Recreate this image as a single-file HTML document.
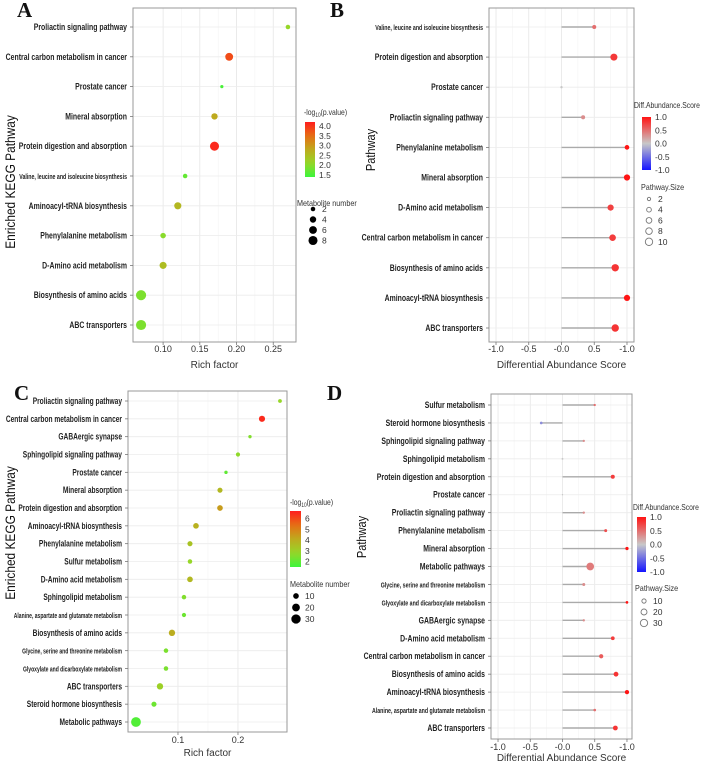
<!DOCTYPE html>
<html><head><meta charset="utf-8"><style>
html,body{margin:0;padding:0;background:#fff;}
svg{display:block;font-family:"Liberation Sans",sans-serif;}
</style></head><body>
<svg id="fig" width="708" height="763" viewBox="0 0 708 763"></svg>
<script>
// ---------- DATA ----------
const aLabels=["Proliactin signaling pathway","Central carbon metabolism in cancer","Prostate cancer","Mineral absorption","Protein digestion and absorption","Valine, leucine and isoleucine biosynthesis","Aminoacyl-tRNA biosynthesis","Phenylalanine metabolism","D-Amino acid metabolism","Biosynthesis of amino acids","ABC transporters"];
const aRich=[0.27,0.19,0.18,0.17,0.17,0.13,0.12,0.10,0.10,0.07,0.07];
const aPval=[2.1,3.8,1.5,2.8,4.1,1.7,2.6,2.0,2.5,1.9,1.9];
const aCount=[2,6,1,4,8,2,5,3,5,10,10];
const aTicks=[0.10,0.15,0.20,0.25];
const aTickLabels=["0.10","0.15","0.20","0.25"];
const aCbTicks=[1.5,2.0,2.5,3.0,3.5,4.0];
const aCbLabels=["1.5","2.0","2.5","3.0","3.5","4.0"];
const aSizeLegend=[2,4,6,8];

const bLabels=["Valine, leucine and isoleucine biosynthesis","Protein digestion and absorption","Prostate cancer","Proliactin signaling pathway","Phenylalanine metabolism","Mineral absorption","D-Amino acid metabolism","Central carbon metabolism in cancer","Biosynthesis of amino acids","Aminoacyl-tRNA biosynthesis","ABC transporters"];
const bScore=[0.5,0.8,0,0.33,1.0,1.0,0.75,0.78,0.82,1.0,0.82];
const bSize=[3,9,1,3,4,7,7,8,10,7,10];
const bTicks=[-1,-0.5,0,0.5,1];
const bTickLabels=["-1.0","-0.5","-0.0","0.5","-1.0"];
const bCbLabels=["1.0","0.5","0.0","-0.5","-1.0"];
const bSizeLegend=[2,4,6,8,10];

const cLabels=["Proliactin signaling pathway","Central carbon metabolism in cancer","GABAergic synapse","Sphingolipid signaling pathway","Prostate cancer","Mineral absorption","Protein digestion and absorption","Aminoacyl-tRNA biosynthesis","Phenylalanine metabolism","Sulfur metabolism","D-Amino acid metabolism","Sphingolipid metabolism","Alanine, aspartate and glutamate metabolism","Biosynthesis of amino acids","Glycine, serine and threonine metabolism","Glyoxylate and dicarboxylate metabolism","ABC transporters","Steroid hormone biosynthesis","Metabolic pathways"];
const cRich=[0.27,0.24,0.22,0.20,0.18,0.17,0.17,0.13,0.12,0.12,0.12,0.11,0.11,0.09,0.08,0.08,0.07,0.06,0.03];
const cPval=[2.8,6.5,2.5,2.7,2.0,3.7,4.4,3.9,3.4,2.8,3.7,2.5,2.2,4.0,2.4,2.4,3.0,2.2,1.8];
const cCount=[4,12,3,5,3,8,10,10,8,6,10,6,5,13,6,6,13,8,33];
const cTicks=[0.1,0.2];
const cTickLabels=["0.1","0.2"];
const cCbTicks=[2,3,4,5,6];
const cCbLabels=["2","3","4","5","6"];
const cSizeLegend=[10,20,30];

const dLabels=["Sulfur metabolism","Steroid hormone biosynthesis","Sphingolipid signaling pathway","Sphingolipid metabolism","Protein digestion and absorption","Prostate cancer","Proliactin signaling pathway","Phenylalanine metabolism","Mineral absorption","Metabolic pathways","Glycine, serine and threonine metabolism","Glyoxylate and dicarboxylate metabolism","GABAergic synapse","D-Amino acid metabolism","Central carbon metabolism in cancer","Biosynthesis of amino acids","Aminoacyl-tRNA biosynthesis","Alanine, aspartate and glutamate metabolism","ABC transporters"];
const dScore=[0.5,-0.33,0.33,0,0.78,0,0.33,0.67,1.0,0.43,0.33,1.0,0.33,0.78,0.6,0.83,1.0,0.5,0.82];
const dSize=[3,4,3,2,9,1,3,5,6,33,5,4,3,8,10,13,10,4,13];
const dTicks=[-1,-0.5,0,0.5,1];
const dTickLabels=["-1.0","-0.5","-0.0","0.5","-1.0"];
const dCbLabels=["1.0","0.5","0.0","-0.5","-1.0"];
const dSizeLegend=[10,20,30];

// ---------- HELPERS ----------
const svg=document.getElementById('fig');
const NS="http://www.w3.org/2000/svg";
function mk(tag,attrs,parent){const e=document.createElementNS(NS,tag);for(const k in attrs)e.setAttribute(k,attrs[k]);(parent||svg).appendChild(e);return e;}
function lerp(a,b,t){return a+(b-a)*t;}
function mixStops(stops,t){t=Math.max(0,Math.min(1,t));for(let i=1;i<stops.length;i++){if(t<=stops[i][0]){const s0=stops[i-1],s1=stops[i];const u=(t-s0[0])/(s1[0]-s0[0]);return "rgb("+[1,2,3].map(k=>Math.round(lerp(s0[k],s1[k],u))).join(",")+")";}}const l=stops[stops.length-1];return "rgb("+l[1]+","+l[2]+","+l[3]+")";}
const pStops=[[0,60,245,60],[0.25,150,215,40],[0.5,190,170,30],[0.75,230,110,20],[1,255,30,30]];
const dStops=[[0,20,20,255],[0.5,200,200,200],[1,255,20,20]];
const smallLabel=l=>l.length>38;
function label(g,x,y,txt,sc){
  const small=smallLabel(txt);
  const t=mk('text',{x:0,y:0,transform:`translate(${x},${y+3}) scale(${sc},1)`,'text-anchor':'end','font-size':small?7.3:9.6,'font-weight':'bold',fill:'#222'},g);
  t.textContent=txt;
  
  
}
function txt(g,x,y,s,opts){const t=mk('text',Object.assign({x:x,y:y,'font-size':9,fill:'#333'},opts||{}),g);t.textContent=s;return t;}

function panel(cfg){
  const g=mk('g',{},svg);
  
  
  const {L,R,T,B,x0,x1,y0,y1,n}=cfg;
  const xs=v=>L+(v-x0)/(x1-x0)*(R-L);
  const ys=i=>y0+i*(y1-y0)/(n-1);
  cfg.ticks.forEach((v,i)=>{ if(i<cfg.ticks.length-1){const m=(v+cfg.ticks[i+1])/2; mk('line',{x1:xs(m),x2:xs(m),y1:T,y2:B,stroke:'#f3f3f3','stroke-width':0.6},g);} });
  cfg.ticks.forEach(v=>mk('line',{x1:xs(v),x2:xs(v),y1:T,y2:B,stroke:'#e6e6e6','stroke-width':0.8},g));
  for(let i=0;i<n;i++) mk('line',{x1:L,x2:R,y1:ys(i),y2:ys(i),stroke:'#ececec','stroke-width':0.8},g);
  const fr=mk('rect',{x:L,y:T,width:R-L,height:B-T,fill:'none',stroke:'#999','stroke-width':1},g);
  
  
  cfg.labels.forEach((lab,i)=>{mk('line',{x1:L-3,x2:L,y1:ys(i),y2:ys(i),stroke:'#777','stroke-width':0.8},g);label(g,L-6,ys(i),lab,cfg.labScale);});
  cfg.ticks.forEach((v,i)=>{mk('line',{x1:xs(v),x2:xs(v),y1:B,y2:B+3,stroke:'#777','stroke-width':0.8},g);
    const t=txt(g,xs(v),cfg.tickY,cfg.tickLabels[i],{'text-anchor':'middle','font-size':9,fill:'#333'});
    
    });
  cfg.labels.forEach((lab,i)=>{
    const v=cfg.xv[i];
    if(cfg.stem){const s=mk('line',{x1:xs(0),x2:xs(v),y1:ys(i),y2:ys(i),stroke:'#aaa','stroke-width':1.4},g);
      
      }
    const c=mk('circle',{cx:xs(v),cy:ys(i),r:cfg.rad(cfg.sz[i]),fill:cfg.col(cfg.cv[i])},g);
    
    
  });
  const xt=txt(g,(L+R)/2,cfg.xTitleY,cfg.xTitle,{'text-anchor':'middle','font-size':10,fill:'#333'});
  
  
  const yt=txt(g,0,0,cfg.yTitle,{'text-anchor':'middle','font-size':cfg.yTitleSize,fill:'#111',transform:`translate(${cfg.yTitleX},${cfg.yTitleY}) rotate(-90) scale(0.85,1)`});
  
  
  const pl=txt(g,cfg.letterX,cfg.letterY,cfg.letter,{'font-family':'"Liberation Serif",serif','font-size':21,'font-weight':'bold',fill:'#111'});
  
  
  const cb=cfg.cb, gid='grad'+cfg.letter;
  const gr=mk('linearGradient',{id:gid,x1:0,y1:1,x2:0,y2:0},mk('defs',{},g));
  for(let k=0;k<=10;k++) mk('stop',{offset:k/10,'stop-color':cfg.cbColor(k/10)},gr);
  const rc=mk('rect',{x:cb.x,y:cb.y0,width:cb.w,height:cb.y1-cb.y0,fill:`url(#${gid})`},g);
  
  
  const ct=txt(g,0,0,'',{'font-size':8.5,fill:'#333',transform:`translate(${cb.tx},${cb.ty}) scale(0.8,1)`});
  
  
  if(cfg.logTitle){ct.textContent='-log';const s=mk('tspan',{'font-size':6,dy:2},ct);s.textContent='10';const s2=mk('tspan',{dy:-2},ct);s2.textContent='(p.value)';}
  else ct.textContent=cb.title;
  cb.vals.forEach((v,k)=>{const y=cb.y1-cfg.cbPos(v)*(cb.y1-cb.y0);const t=txt(g,cb.x+cb.w+4,y+3,cb.labs[k],{'font-size':8.5,fill:'#333'});
    
    });
  const sl=cfg.sl;
  const st=txt(g,0,0,sl.title,{'font-size':8.5,fill:'#333',transform:`translate(${sl.tx},${sl.ty}) scale(0.85,1)`});
  
  
  sl.vals.forEach((v,k)=>{const y=sl.y0+k*sl.step;
    const c=mk('circle',{cx:sl.x,cy:y,r:cfg.rad(v),fill:sl.hollow?'none':'#000',stroke:sl.hollow?'#777':'none','stroke-width':0.9},g);
    
    
    const t=txt(g,sl.x+9,y+3,String(v),{'font-size':8.5,fill:'#333'});
    
    });
}

// ---------- PANELS ----------
const pColA=v=>mixStops(pStops,(v-1.4)/(4.2-1.4));
panel({name:'panel-a',letter:'A',letterX:17,letterY:17,L:133,R:296,T:8,B:342,x0:0.059,x1:0.281,y0:27,y1:325,n:aLabels.length,labScale:0.72,
  labels:aLabels,xv:aRich,cv:aPval,sz:aCount,rad:n=>1.6*Math.sqrt(n),col:pColA,stem:false,
  ticks:aTicks,tickLabels:aTickLabels,tickY:352,xTitle:'Rich factor',xTitleY:368,yTitle:'Enriched KEGG Pathway',yTitleX:15,yTitleY:182,yTitleSize:14,
  cb:{x:305,w:10,y0:122,y1:177,tx:304,ty:115,vals:aCbTicks,labs:aCbLabels},cbPos:v=>(v-1.4)/(4.2-1.4),cbColor:t=>mixStops(pStops,t),logTitle:true,
  sl:{title:'Metabolite number',tx:297,ty:206,x:313,y0:209,step:10.5,vals:aSizeLegend,hollow:false}});

const dCol=v=>mixStops(dStops,(v+1)/2);
panel({name:'panel-b',letter:'B',letterX:330,letterY:17,L:489,R:634,T:8,B:342,x0:-1.107,x1:1.107,y0:27,y1:328,n:bLabels.length,labScale:0.72,
  labels:bLabels,xv:bScore,cv:bScore,sz:bSize,rad:n=>1.17*Math.sqrt(n),col:dCol,stem:true,
  ticks:bTicks,tickLabels:bTickLabels,tickY:352,xTitle:'Differential Abundance Score',xTitleY:368,yTitle:'Pathway',yTitleX:375,yTitleY:150,yTitleSize:13,
  cb:{x:642,w:9,y0:117,y1:170,tx:634,ty:108,title:'Diff.Abundance.Score',vals:[1,0.5,0,-0.5,-1],labs:bCbLabels},cbPos:v=>(v+1)/2,cbColor:t=>mixStops(dStops,t),logTitle:false,
  sl:{title:'Pathway.Size',tx:641,ty:190,x:649,y0:199,step:10.7,vals:bSizeLegend,hollow:true}});

const pColC=v=>mixStops(pStops,(v-1.5)/(6.7-1.5));
panel({name:'panel-c',letter:'C',letterX:14,letterY:400,L:128,R:287,T:391,B:732,x0:0.0167,x1:0.2817,y0:401,y1:722,n:cLabels.length,labScale:0.69,
  labels:cLabels,xv:cRich,cv:cPval,sz:cCount,rad:n=>0.8*Math.sqrt(n)+0.3,col:pColC,stem:false,
  ticks:cTicks,tickLabels:cTickLabels,tickY:743,xTitle:'Rich factor',xTitleY:756,yTitle:'Enriched KEGG Pathway',yTitleX:15,yTitleY:533,yTitleSize:14,
  cb:{x:290,w:11,y0:511,y1:567,tx:290,ty:505,vals:cCbTicks,labs:cCbLabels},cbPos:v=>(v-1.5)/(6.7-1.5),cbColor:t=>mixStops(pStops,t),logTitle:true,
  sl:{title:'Metabolite number',tx:290,ty:587,x:296,y0:596,step:11.5,vals:cSizeLegend,hollow:false}});

panel({name:'panel-d',letter:'D',letterX:327,letterY:400,L:491,R:632,T:394,B:739,x0:-1.109,x1:1.078,y0:405,y1:728,n:dLabels.length,labScale:0.72,
  labels:dLabels,xv:dScore,cv:dScore,sz:dSize,rad:n=>0.67*Math.sqrt(n),col:dCol,stem:true,
  ticks:dTicks,tickLabels:dTickLabels,tickY:750,xTitle:'Differential Abundance Score',xTitleY:761,yTitle:'Pathway',yTitleX:366,yTitleY:537,yTitleSize:13,
  cb:{x:637,w:9,y0:517,y1:572,tx:633,ty:510,title:'Diff.Abundance.Score',vals:[1,0.5,0,-0.5,-1],labs:dCbLabels},cbPos:v=>(v+1)/2,cbColor:t=>mixStops(dStops,t),logTitle:false,
  sl:{title:'Pathway.Size',tx:635,ty:591,x:644,y0:601,step:11,vals:dSizeLegend,hollow:true}});
</script>
</body></html>
